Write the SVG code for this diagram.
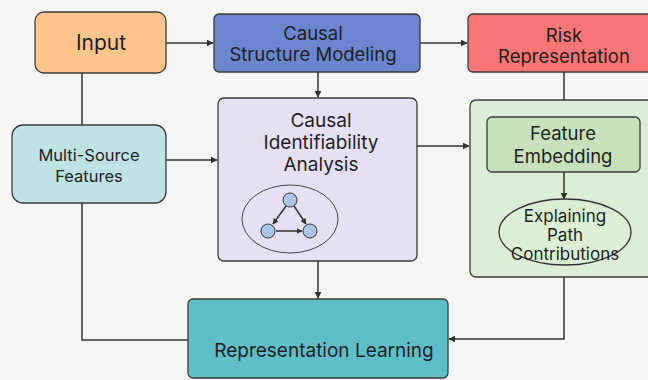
<svg xmlns="http://www.w3.org/2000/svg" width="648" height="380" viewBox="0 0 648 380">
<defs>
<style>
.box{stroke:#3a3a3a;stroke-width:1.3}
.t{font-family:Inter,"Liberation Sans",sans-serif;fill:#1e1e1e;text-anchor:middle}
.ln{fill:none;stroke:#333;stroke-width:1.5}
</style>
<marker id="ah" viewBox="0 0 10 10" refX="9" refY="5" markerWidth="7" markerHeight="7" orient="auto" markerUnits="userSpaceOnUse"><path d="M0,0 L10,5 L0,10 z" fill="#333"/></marker>
<marker id="ah2" viewBox="0 0 10 10" refX="9" refY="5" markerWidth="6" markerHeight="6" orient="auto" markerUnits="userSpaceOnUse"><path d="M0,0 L10,5 L0,10 z" fill="#333"/></marker>
</defs>
<rect width="648" height="380" fill="#f6f6f4"/>
<g id="connectors">
<path class="ln" d="M166,43 H213" marker-end="url(#ah)"/>
<path class="ln" d="M420,43 H467" marker-end="url(#ah)"/>
<path class="ln" d="M318,72 V97" marker-end="url(#ah)"/>
<path class="ln" d="M82,73 V125"/>
<path class="ln" d="M166,160 H217" marker-end="url(#ah)"/>
<path class="ln" d="M82,203 V340 H188"/>
<path class="ln" d="M417,146 H469" marker-end="url(#ah)"/>
<path class="ln" d="M564,72 V100"/>
<path class="ln" d="M318,261 V298" marker-end="url(#ah)"/>
<path class="ln" d="M564,277 V339 H449" marker-end="url(#ah)"/>
</g>
<g id="input">
<rect class="box" x="35" y="12" width="131" height="61" rx="9" fill="#fdc48b"/>
<text class="t" x="101" y="50" font-size="21">Input</text>
</g>
<g id="causal-structure">
<rect class="box" x="214" y="14" width="206" height="58" rx="5" fill="#6b86cf"/>
<text class="t" x="313" y="40" font-size="18.5">Causal</text>
<text class="t" x="313" y="61" font-size="18.5">Structure Modeling</text>
</g>
<g id="risk">
<rect class="box" x="468" y="14" width="190" height="58" rx="5" fill="#f87575"/>
<text class="t" x="564" y="42" font-size="18.5">Risk</text>
<text class="t" x="564" y="63" font-size="18.5">Representation</text>
</g>
<g id="multi-source">
<rect class="box" x="12" y="125" width="154" height="78" rx="11" fill="#bfe3e5"/>
<text class="t" x="89" y="161" font-size="16.5">Multi-Source</text>
<text class="t" x="89" y="182" font-size="16.5">Features</text>
</g>
<g id="identifiability">
<rect class="box" x="218" y="98" width="199" height="163" rx="6" fill="#e6e0f4"/>
<text class="t" x="321" y="127" font-size="19">Causal</text>
<text class="t" x="321" y="149" font-size="19">Identifiability</text>
<text class="t" x="321" y="171" font-size="19">Analysis</text>
<ellipse cx="290" cy="219" rx="48" ry="34" fill="none" stroke="#444" stroke-width="1"/>
<path class="ln" d="M286,206 L273,224" stroke-width="1.1" marker-end="url(#ah2)"/>
<path class="ln" d="M294,206 L306,224" stroke-width="1.1" marker-end="url(#ah2)"/>
<path class="ln" d="M276,231 H302" stroke-width="1.1" marker-end="url(#ah2)"/>
<circle cx="290" cy="200" r="7" fill="#a9c6ea" stroke="#333" stroke-width="1"/>
<circle cx="268" cy="231" r="7" fill="#a9c6ea" stroke="#333" stroke-width="1"/>
<circle cx="310" cy="231" r="7" fill="#a9c6ea" stroke="#333" stroke-width="1"/>
</g>
<g id="green-group">
<rect class="box" x="470" y="100" width="190" height="177" rx="6" fill="#ddeed6"/>
</g>
<g id="feature-embedding">
<rect class="box" x="487" y="117" width="153" height="55" rx="5" fill="#c7e2bb"/>
<text class="t" x="563" y="140" font-size="18.5">Feature</text>
<text class="t" x="563" y="163" font-size="18.5">Embedding</text>
</g>
<path class="ln" d="M564,172 V199" marker-end="url(#ah)"/>
<g id="explaining">
<ellipse cx="565" cy="232" rx="66" ry="33" fill="#dcefd4" stroke="#333" stroke-width="1.3"/>
<text class="t" x="565" y="222" font-size="17">Explaining</text>
<text class="t" x="565" y="241" font-size="17">Path</text>
<text class="t" x="565" y="260" font-size="17">Contributions</text>
</g>
<g id="representation-learning">
<rect class="box" x="188" y="299" width="260" height="79" rx="5" fill="#5fbfc9"/>
<text class="t" x="324" y="357" font-size="19">Representation Learning</text>
</g>
</svg>
